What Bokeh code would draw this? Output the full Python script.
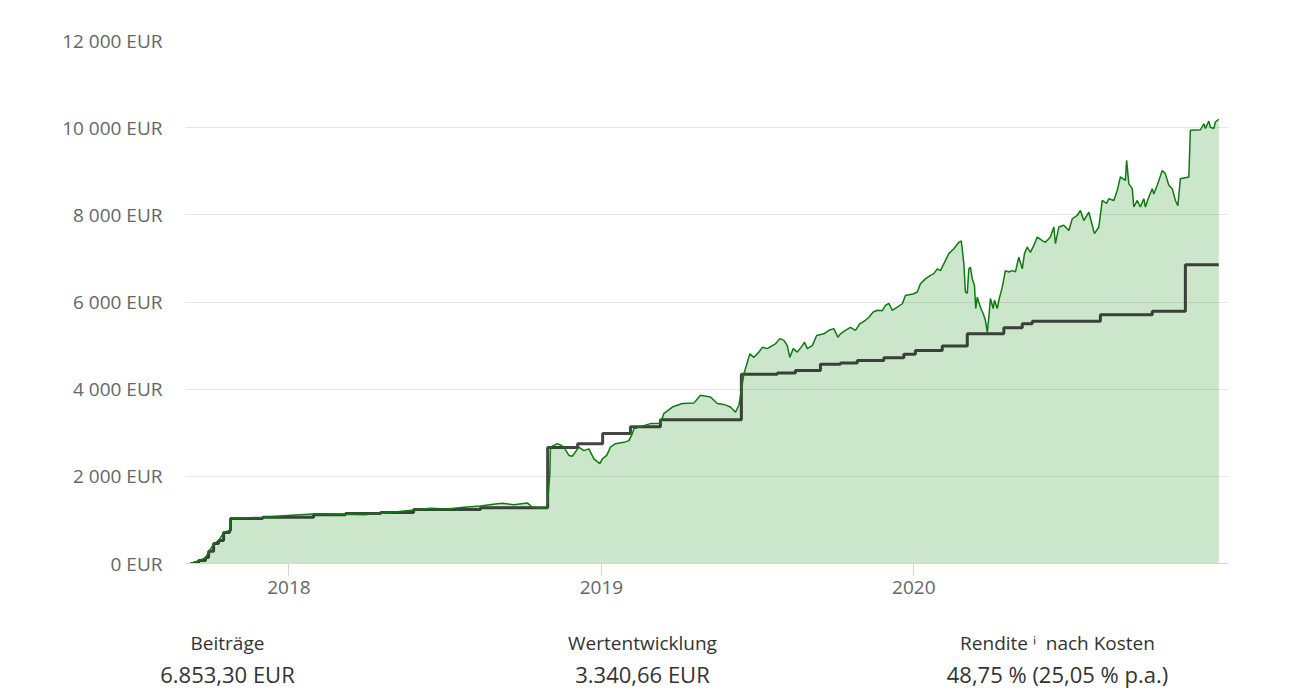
from bokeh.plotting import figure
from bokeh.models import Range1d, FixedTicker, LinearAxis
from bokeh.embed import file_html
from bokeh.resources import INLINE

# ---- data (time in decimal years, values in EUR) ----
value_t = [2017.685, 2017.696, 2017.712, 2017.733, 2017.744, 2017.760, 2017.776, 2017.792, 2017.811, 2017.813,
           2017.915, 2017.995, 2018.091, 2018.165, 2018.240, 2018.293, 2018.400, 2018.453, 2018.507, 2018.560,
           2018.613, 2018.667, 2018.683, 2018.720, 2018.763, 2018.779, 2018.821, 2018.827, 2018.835, 2018.837,
           2018.859, 2018.869, 2018.880, 2018.896, 2018.907, 2018.928, 2018.944, 2018.960, 2018.976, 2018.995,
           2019.003, 2019.017, 2019.029, 2019.045, 2019.072, 2019.088, 2019.099, 2019.104, 2019.125, 2019.157,
           2019.189, 2019.200, 2019.227, 2019.259, 2019.296, 2019.317, 2019.349, 2019.371, 2019.392, 2019.413,
           2019.429, 2019.440, 2019.448, 2019.456, 2019.475, 2019.488, 2019.504, 2019.515, 2019.531, 2019.547,
           2019.557, 2019.571, 2019.584, 2019.595, 2019.603, 2019.614, 2019.627, 2019.643, 2019.650, 2019.659,
           2019.675, 2019.689, 2019.712, 2019.728, 2019.744, 2019.757, 2019.765, 2019.781, 2019.797, 2019.813,
           2019.827, 2019.845, 2019.856, 2019.870, 2019.883, 2019.899, 2019.909, 2019.920, 2019.931, 2019.947,
           2019.963, 2019.973, 2020.000, 2020.011, 2020.021, 2020.037, 2020.053, 2020.064, 2020.075, 2020.085,
           2020.101, 2020.112, 2020.128, 2020.144, 2020.152, 2020.160, 2020.165, 2020.171, 2020.176, 2020.181,
           2020.187, 2020.194, 2020.198, 2020.203, 2020.213, 2020.222, 2020.229, 2020.235, 2020.240, 2020.245,
           2020.254, 2020.258, 2020.267, 2020.272, 2020.283, 2020.293, 2020.304, 2020.315, 2020.325, 2020.336,
           2020.347, 2020.354, 2020.363, 2020.373, 2020.384, 2020.395, 2020.411, 2020.421, 2020.437, 2020.448,
           2020.453, 2020.464, 2020.480, 2020.496, 2020.507, 2020.523, 2020.533, 2020.544, 2020.560, 2020.571,
           2020.578, 2020.592, 2020.603, 2020.617, 2020.624, 2020.640, 2020.651, 2020.661, 2020.677, 2020.681,
           2020.688, 2020.699, 2020.704, 2020.715, 2020.725, 2020.736, 2020.741, 2020.752, 2020.763, 2020.768,
           2020.779, 2020.795, 2020.805, 2020.816, 2020.827, 2020.837, 2020.845, 2020.853, 2020.880, 2020.885,
           2020.917, 2020.928, 2020.933, 2020.944, 2020.949, 2020.960, 2020.965, 2020.976]

portfolio_value = [0, 20, 70, 130, 280, 450, 530, 720, 760, 1040,
                   1060, 1100, 1140, 1130, 1120, 1150, 1230, 1270, 1250, 1290,
                   1320, 1370, 1380, 1350, 1390, 1290, 1260, 1330, 2060, 2670,
                   2750, 2720, 2670, 2480, 2460, 2670, 2590, 2630, 2400, 2290,
                   2400, 2480, 2670, 2750, 2780, 2820, 2980, 3090, 3140, 3210,
                   3220, 3440, 3590, 3670, 3680, 3860, 3820, 3670, 3650, 3590,
                   3470, 3630, 3970, 4350, 4810, 4730, 4850, 4960, 4930, 5000,
                   5040, 5160, 5120, 5000, 4730, 4930, 4850, 5000, 5080, 4930,
                   5000, 5230, 5270, 5350, 5390, 5190, 5270, 5350, 5420, 5350,
                   5500, 5580, 5650, 5770, 5810, 5800, 5920, 5970, 5810, 5880,
                   5960, 6150, 6190, 6230, 6420, 6530, 6610, 6650, 6760, 6720,
                   6950, 7110, 7220, 7370, 7400, 6880, 6230, 6200, 6760, 6800,
                   6530, 6380, 5850, 6110, 5880, 5730, 5580, 5310, 5650, 6080,
                   5850, 6040, 5850, 6040, 6340, 6720, 6690, 6720, 6690, 7030,
                   6760, 7110, 7260, 7140, 7300, 7490, 7410, 7370, 7490, 7720,
                   7340, 7720, 7760, 7640, 7910, 7990, 8100, 7870, 8060, 7760,
                   7570, 7720, 8330, 8260, 8370, 8330, 8560, 8870, 8790, 9250,
                   8710, 8600, 8180, 8330, 8180, 8370, 8180, 8410, 8600, 8480,
                   8680, 9020, 8940, 8680, 8600, 8330, 8210, 8830, 8870, 9940,
                   9950, 10090, 9980, 10150, 10010, 9980, 10130, 10194]

contrib_t = [2017.685, 2017.695, 2017.711, 2017.733, 2017.743, 2017.759, 2017.775, 2017.791, 2017.810, 2017.813,
             2017.916, 2018.079, 2018.181, 2018.293, 2018.399, 2018.613, 2018.828, 2018.924, 2019.004, 2019.093,
             2019.189, 2019.448, 2019.563, 2019.621, 2019.701, 2019.765, 2019.819, 2019.904, 2019.968, 2020.005,
             2020.091, 2020.171, 2020.288, 2020.347, 2020.379, 2020.597, 2020.763, 2020.869, 2020.976]
contributions = [0, 20, 70, 140, 280, 460, 530, 710, 760, 1030,
                 1060, 1120, 1150, 1170, 1240, 1280, 2660, 2750, 2980, 3140,
                 3300, 4340, 4370, 4430, 4570, 4600, 4660, 4720, 4800, 4890,
                 4990, 5270, 5410, 5500, 5560, 5710, 5790, 6853, 6853]

year_ticks = [2018, 2019, 2020]
year_labels = ["2018", "2019", "2020"]
eur_ticks = [0, 2000, 4000, 6000, 8000, 10000, 12000]
eur_labels = ["0 EUR", "2 000 EUR", "4 000 EUR", "6 000 EUR", "8 000 EUR", "10 000 EUR", "12 000 EUR"]

stat_titles = ["Beiträge", "Wertentwicklung", "Rendite \u2071\u00a0 nach Kosten"]
stat_values = ["6.853,30 EUR", "3.340,66 EUR", "48,75 % (25,05 % p.a.)"]

FONT = "Open Sans"

# ---- main chart ----
p = figure(width=1290, height=691,
           x_range=Range1d(2017.669, 2021.007), y_range=Range1d(0, 12000),
           output_backend="svg", toolbar_location=None,
           min_border_left=185, min_border_right=62, min_border_top=40, min_border_bottom=128)
p.outline_line_color = None
p.background_fill_color = "white"
p.border_fill_color = "white"

p.varea(x=value_t, y1=0, y2=portfolio_value, fill_color="green", fill_alpha=0.2)
p.step(contrib_t, contributions, mode="after", line_color="#111111", line_alpha=0.78, line_width=3)
p.line(value_t, portfolio_value, line_color="#0f7b0f", line_width=1.5)

p.xaxis.ticker = FixedTicker(ticks=year_ticks)
p.xaxis.major_label_overrides = dict(zip(year_ticks, year_labels))
p.xaxis.axis_line_color = "#ccd6eb"
p.xaxis.major_tick_line_color = "#ccd6eb"
p.xaxis.major_tick_in = 0
p.xaxis.major_tick_out = 12
p.xaxis.minor_tick_line_color = None
p.xaxis.major_label_standoff = 5
p.xaxis.major_label_text_font = FONT
p.xaxis.major_label_text_font_size = "19px"
p.xaxis.major_label_text_color = "#666666"

p.yaxis.ticker = FixedTicker(ticks=eur_ticks)
p.yaxis.major_label_overrides = dict(zip(eur_ticks, eur_labels))
p.yaxis.axis_line_color = None
p.yaxis.major_tick_line_color = None
p.yaxis.minor_tick_line_color = None
p.yaxis.major_tick_in = 0
p.yaxis.major_tick_out = 0
p.yaxis.major_label_standoff = 23
p.yaxis.major_label_text_font = FONT
p.yaxis.major_label_text_font_size = "19px"
p.yaxis.major_label_text_color = "#666666"

p.xgrid.grid_line_color = None
p.ygrid.grid_line_color = "#e6e6e6"
p.ygrid.grid_line_width = 1

# ---- summary rows, laid out as label-only axes on a pixel-like extra range ----
p.extra_x_ranges = {"summary": Range1d(185, 1228)}
stat_pos = [227, 642, 1057]

def summary_axis(labels, size, standoff):
    ax = LinearAxis(x_range_name="summary", ticker=FixedTicker(ticks=stat_pos),
                    major_label_overrides=dict(zip(stat_pos, labels)))
    ax.axis_line_color = None
    ax.major_tick_line_color = None
    ax.minor_tick_line_color = None
    ax.major_tick_in = 0
    ax.major_tick_out = 0
    ax.major_label_standoff = standoff
    ax.major_label_text_font = FONT
    ax.major_label_text_font_size = size
    ax.major_label_text_color = "#333333"
    p.add_layout(ax, "below")

summary_axis(stat_titles, "19px", 33)
summary_axis(stat_values, "22px", 0)

open("out.html", "w").write(file_html(p, INLINE))
